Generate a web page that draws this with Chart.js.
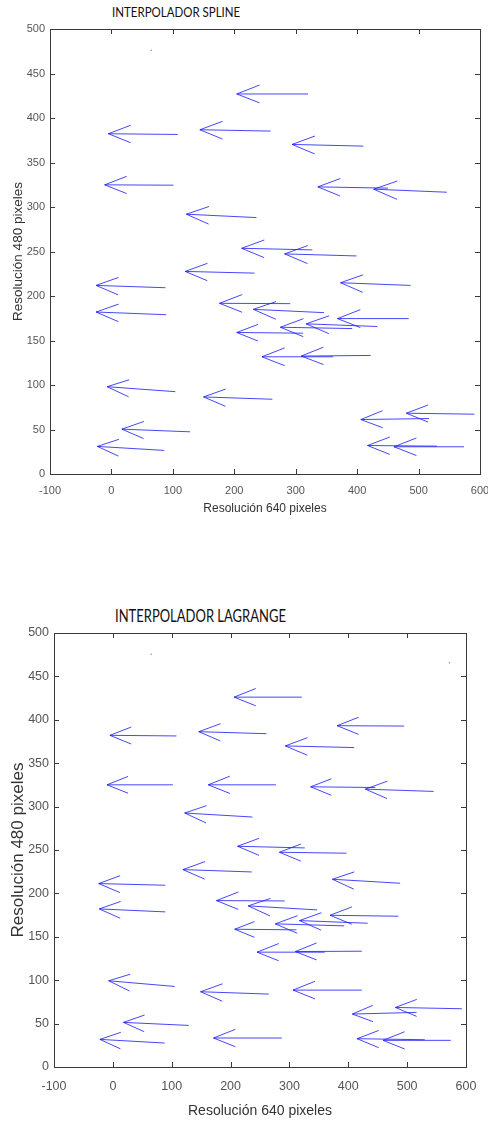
<!DOCTYPE html>
<html>
<head>
<meta charset="utf-8">
<script src="https://cdn.jsdelivr.net/npm/chart.js@4.4.1/dist/chart.umd.min.js"></script>
<style>
  html, body { margin: 0; padding: 0; background: #fff; }
  body { width: 488px; height: 1122px; position: relative; overflow: hidden; }
  .box { position: absolute; left: 0; width: 488px; }
  .ttl { position: absolute; font-family: Lato, "Open Sans", sans-serif; color: #111; white-space: nowrap; transform-origin: 0 0; }
</style>
</head>
<body>
<div class="ttl" style="left:112px; top:5px; font-size:11.5px; line-height:14px; transform:scaleY(1.12);">INTERPOLADOR SPLINE</div>
<div class="box" style="top:0; height:540px;"><canvas id="splineChart" width="488" height="540"></canvas></div>
<div class="ttl" style="left:115px; top:605px; font-size:13px; line-height:16px; transform:scaleY(1.3);">INTERPOLADOR LAGRANGE</div>
<div class="box" style="top:590px; height:532px;"><canvas id="lagrangeChart" width="488" height="532"></canvas></div>
<script>
// axis ticks (same on both plots)
const xTicks = [-100, 0, 100, 200, 300, 400, 500, 600];
const yTicks = [0, 50, 100, 150, 200, 250, 300, 350, 400, 450, 500];

// quiver data, spline interpolation: tail position (X, Y) and vector (U, V)
const splineX = [320, 108, 259, 410, 101, 450, 546, 236, 327, 399, 233, 487, 88, 291, 346, 89, 484, 433, 392, 312, 361, 422, 104, 262, 591, 517, 128, 86, 530, 574];
const splineY = [427, 381.5, 385.3, 368.4, 324.5, 321.2, 316.6, 288.1, 251.8, 245, 225.7, 211.9, 209.3, 191.4, 181.3, 179, 174.6, 165.7, 163.4, 158.2, 131.7, 133.2, 92.5, 84, 67.2, 62.3, 47.4, 26.5, 31.3, 30.6];
const splineU = [-116, -113, -115, -116, -112, -114, -119, -114, -115, -117, -113, -114, -113, -115, -115, -114, -116, -116, -117, -108, -116, -113, -111, -112, -111, -111, -111, -109, -113, -114];
const splineV = [0, 0.8, 1.5, 1.9, 0.4, 1.4, 3.4, 3.8, 1.8, 2.3, 1.9, 3, 2.6, 0.4, 3.7, 3, 0, 3, 1.5, 0.8, 0, -0.7, 5.6, 2.6, 1.1, -1.1, 3, 4.5, 0.7, 0];
const splineDotX = [65];
const splineDotY = [476];

// quiver data, Lagrange interpolation
const lagrangeX = [321, 108, 261, 495, 410, 102, 277, 446, 545, 237, 326, 397, 236, 488, 89, 292, 347, 89, 485, 433, 393, 312, 360, 423, 105, 265, 423, 593, 516, 129, 88, 287, 530, 574];
const lagrangeY = [426.1, 381.4, 384, 392.8, 368, 325.1, 325.1, 322, 317.5, 288, 252.4, 246.3, 224.7, 211.7, 209.4, 191.3, 181, 178.7, 173.7, 165.6, 162.6, 158, 132.3, 133.4, 92.8, 84, 88.6, 67.1, 62.9, 47.9, 27.6, 33.4, 31.4, 30.7];
const lagrangeU = [-115, -113, -115, -114, -117, -112, -115, -110, -116, -115, -114, -114, -117, -115, -113, -116, -117, -112, -116, -116, -117, -105, -115, -113, -112, -116, -117, -113, -109, -111, -110, -116, -115, -115];
const lagrangeV = [0, 0.7, 2.3, 0.4, 1.9, 0, 0, 0.8, 2.6, 4.6, 1.9, 1.1, 2.7, 4.6, 1.9, 0.4, 4.6, 3.4, 1.1, 3.1, 2.3, 0.7, 0, -0.4, 6.5, 2.7, 0, 1.5, -1.9, 3.5, 4.2, 0, 1.2, 0];
const lagrangeDotX = [65, 572];
const lagrangeDotY = [475.5, 465.6];

const HEAD_ALPHA = 0.32;   // arrowhead length relative to the vector
const HEAD_BETA = 0.27;    // arrowhead half-width relative to its length
const ARROW_COLOR = 'rgba(30, 30, 248, 0.82)';

// build quiver segments (shaft + two barbs), breaking the line with NaN points
function quiverPoints(X, Y, U, V) {
    const pts = [];
    const gap = { x: NaN, y: NaN };
    for (let i = 0; i < X.length; i++) {
        const u = U[i], v = V[i];
        const hx = X[i] + u, hy = Y[i] + v;
        pts.push({ x: X[i], y: Y[i] }, { x: hx, y: hy }, gap);
        pts.push({ x: hx - HEAD_ALPHA * (u + HEAD_BETA * v), y: hy - HEAD_ALPHA * (v - HEAD_BETA * u) });
        pts.push({ x: hx, y: hy });
        pts.push({ x: hx - HEAD_ALPHA * (u - HEAD_BETA * v), y: hy - HEAD_ALPHA * (v + HEAD_BETA * u) }, gap);
    }
    return pts;
}

// box around the plot with inward tick marks on all four sides
const frameTicks = {
    id: 'frameTicks',
    afterDatasetsDraw(chart) {
        const { ctx, chartArea: a, scales: { x, y } } = chart;
        const len = 5;
        ctx.save();
        ctx.strokeStyle = '#3a3a3a';
        ctx.lineWidth = 1;
        ctx.strokeRect(Math.round(a.left) + 0.5, Math.round(a.top) + 0.5, Math.round(a.width), Math.round(a.height));
        ctx.beginPath();
        xTicks.slice(1, -1).forEach(t => {
            const px = Math.round(x.getPixelForValue(t)) + 0.5;
            ctx.moveTo(px, a.bottom); ctx.lineTo(px, a.bottom - len);
            ctx.moveTo(px, a.top); ctx.lineTo(px, a.top + len);
        });
        yTicks.slice(1, -1).forEach(t => {
            const py = Math.round(y.getPixelForValue(t)) + 0.5;
            ctx.moveTo(a.left, py); ctx.lineTo(a.left + len, py);
            ctx.moveTo(a.right, py); ctx.lineTo(a.right - len, py);
        });
        ctx.stroke();
        ctx.restore();
    }
};

function makeChart(id, X, Y, U, V, dotX, dotY, cfg) {
    const ctx = document.getElementById(id).getContext('2d');
    return new Chart(ctx, {
        type: 'line',
        data: {
            datasets: [{
                data: quiverPoints(X, Y, U, V),
                borderColor: ARROW_COLOR,
                borderWidth: 1,
                pointRadius: 0,
                tension: 0,
                spanGaps: false,
                fill: false
            }, {
                data: dotX.map((v, i) => ({ x: v, y: dotY[i] })),
                showLine: false,
                pointRadius: 0.8,
                pointBorderWidth: 0,
                pointBackgroundColor: 'rgba(90, 90, 255, 0.7)'
            }]
        },
        options: {
            responsive: false,
            animation: false,
            layout: { padding: cfg.padding },
            plugins: { legend: { display: false }, tooltip: { enabled: false } },
            scales: {
                x: {
                    type: 'linear',
                    min: -100, max: 600,
                    afterBuildTicks: s => { s.ticks = xTicks.map(v => ({ value: v })); },
                    afterFit: s => { s.height = cfg.xHeight; s.paddingLeft = 0; s.paddingRight = 0; },
                    grid: { display: false, drawTicks: false },
                    border: { display: false },
                    ticks: {
                        color: '#555',
                        padding: cfg.xTickPad,
                        maxRotation: 0,
                        autoSkip: false,
                        font: { family: '"Liberation Sans", Arial, sans-serif', size: cfg.tickSize }
                    },
                    title: {
                        display: true,
                        text: 'Resolución 640 pixeles',
                        color: '#333',
                        padding: { top: 0, bottom: cfg.xTitlePad },
                        font: { family: '"Liberation Sans", Arial, sans-serif', size: cfg.titleSize }
                    }
                },
                y: {
                    type: 'linear',
                    min: 0, max: 500,
                    afterBuildTicks: s => { s.ticks = yTicks.map(v => ({ value: v })); },
                    afterFit: s => { s.width = cfg.yWidth; s.paddingTop = 0; s.paddingBottom = 0; },
                    grid: { display: false, drawTicks: false },
                    border: { display: false },
                    ticks: {
                        color: '#555',
                        padding: 5,
                        autoSkip: false,
                        font: { family: '"Liberation Sans", Arial, sans-serif', size: cfg.tickSize }
                    },
                    title: {
                        display: true,
                        text: 'Resolución 480 pixeles',
                        color: '#333',
                        padding: { top: cfg.yTitlePad, bottom: 0 },
                        font: { family: '"Liberation Sans", Arial, sans-serif', size: cfg.yTitleSize }
                    }
                }
            }
        },
        plugins: [frameTicks]
    });
}

makeChart('splineChart', splineX, splineY, splineU, splineV, splineDotX, splineDotY, {
    padding: { top: 29, right: 8, left: 0, bottom: 0 },
    xHeight: 66, yWidth: 50,
    tickSize: 11, titleSize: 12, yTitleSize: 13.5,
    xTickPad: 10, xTitlePad: 24, yTitlePad: 10
});

makeChart('lagrangeChart', lagrangeX, lagrangeY, lagrangeU, lagrangeV, lagrangeDotX, lagrangeDotY, {
    padding: { top: 43, right: 22, left: 0, bottom: 0 },
    xHeight: 55, yWidth: 54,
    tickSize: 12.5, titleSize: 14, yTitleSize: 17,
    xTickPad: 12, xTitlePad: 2, yTitlePad: 8
});
</script>
</body>
</html>
